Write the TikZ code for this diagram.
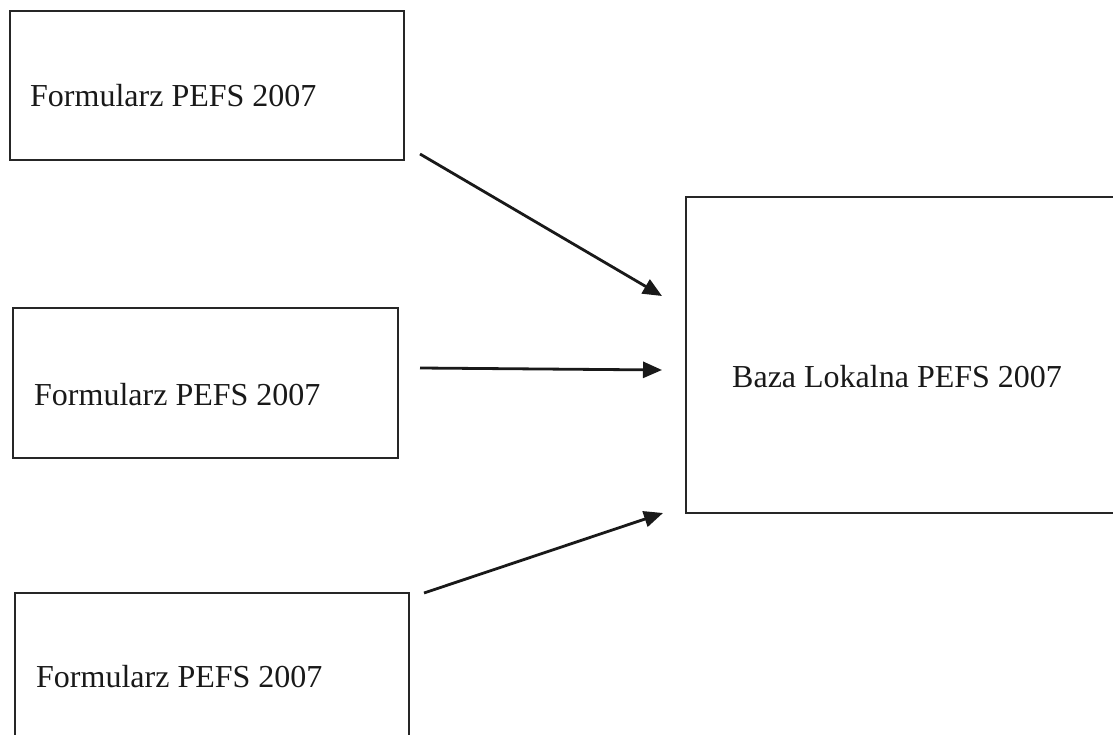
\documentclass[tikz,border=0pt]{standalone}
\usepackage{fontspec}
\setmainfont{Liberation Serif}
\usetikzlibrary{arrows.meta}
\begin{document}
\begin{tikzpicture}[x=1pt,y=-1pt,
  boxline/.style={draw=black!85,line width=2.8pt},
  lbl/.style={anchor=base west,inner sep=0pt,font=\fontsize{32}{36}\selectfont,text=black!90},
  conn/.style={line width=2.8pt,draw=black!90,-{Triangle[length=19pt,width=16pt]}}]
\useasboundingbox (0,0) rectangle (1113,735);
\clip (0,0) rectangle (1113,735);
\fill[white] (0,0) rectangle (1113,735);
% boxes
\node[boxline,minimum width=394pt,minimum height=149pt,inner sep=0pt] (b1) at (207,85.5) {};
\node[boxline,minimum width=385pt,minimum height=150pt,inner sep=0pt] (b2) at (205.5,383) {};
\node[boxline,minimum width=394pt,minimum height=160pt,inner sep=0pt] (b3) at (212,673) {};
\node[boxline,minimum width=450pt,minimum height=316pt,inner sep=0pt] (db) at (911,355) {};
% labels
\node[lbl] (t1) at (30,107) {Formularz PEFS 2007};
\node[lbl] (t2) at (34,405) {Formularz PEFS 2007};
\node[lbl] (t3) at (36,687) {Formularz PEFS 2007};
\node[lbl] (t4) at (732,387) {Baza Lokalna PEFS 2007};
% connector ends
\coordinate (s1) at (420,154);
\coordinate (e1) at (662,296);
\coordinate (s2) at (420,368);
\coordinate (e2) at (662,370);
\coordinate (s3) at (424,593);
\coordinate (e3) at (663,513);
\draw[conn] (s1) -- (e1);
\draw[conn] (s2) -- (e2);
\draw[conn] (s3) -- (e3);
\end{tikzpicture}
\end{document}
